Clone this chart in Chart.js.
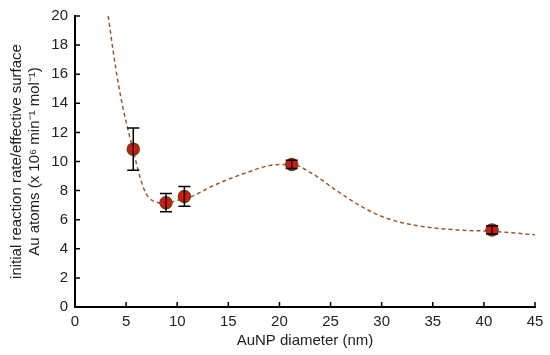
<!DOCTYPE html>
<html>
<head>
<meta charset="utf-8">
<script src="https://cdn.jsdelivr.net/npm/chart.js@4"></script>
<style>
  html, body { margin: 0; padding: 0; background: #fff; }
  #wrap { width: 550px; height: 355px; }
</style>
</head>
<body>
<div id="wrap"><canvas id="rateChart"></canvas></div>
<script>
// measured points (AuNP diameter nm, rate per surface atom) with error
const diam = [5.7, 8.9, 10.7, 21.2, 40.8];
const rate = [10.85, 7.17, 7.6, 9.8, 5.3];
const rateErr = [1.45, 0.63, 0.68, 0.28, 0.28];

// fitted curve
const fitX = [3.25, 3.75, 4.25, 4.75, 5.25, 5.75, 6.25, 6.75, 7.25, 8.0, 8.8, 10.0, 11.25, 13.5, 16.8, 19.4, 21.2, 23.3, 25.6, 27.9, 30.2, 33.4, 37.3, 40.8, 45];
const fitY = [20, 17.5, 15.3, 13.5, 12.0, 10.6, 9.2, 8.1, 7.5, 7.2, 7.12, 7.33, 7.55, 8.33, 9.24, 9.76, 9.8, 9.12, 7.99, 6.96, 6.17, 5.6, 5.3, 5.2, 4.97];

const xTicks = [0, 5, 10, 15, 20, 25, 30, 35, 40, 45];
const yTicks = [0, 2, 4, 6, 8, 10, 12, 14, 16, 18, 20];

const textColor = '#222';
const fontFam = "'Liberation Sans', Arial, sans-serif";

const errorBars = {
  id: 'errorBars',
  afterDatasetsDraw(chart) {
    const ctx = chart.ctx;
    const xs = chart.scales.x, ys = chart.scales.y;
    ctx.save();
    ctx.strokeStyle = '#000';
    ctx.lineWidth = 1.5;
    for (let i = 0; i < diam.length; i++) {
      const px = xs.getPixelForValue(diam[i]);
      const top = ys.getPixelForValue(rate[i] + rateErr[i]);
      const bot = ys.getPixelForValue(rate[i] - rateErr[i]);
      ctx.beginPath();
      ctx.moveTo(px, top); ctx.lineTo(px, bot);
      ctx.moveTo(px - 6, top); ctx.lineTo(px + 6, top);
      ctx.moveTo(px - 6, bot); ctx.lineTo(px + 6, bot);
      ctx.stroke();
    }
    ctx.restore();
  }
};

const innerTicks = {
  id: 'innerTicks',
  afterDraw(chart) {
    const ctx = chart.ctx;
    const xs = chart.scales.x, ys = chart.scales.y;
    const area = chart.chartArea;
    ctx.save();
    ctx.strokeStyle = '#000';
    ctx.lineWidth = 1.5;
    ctx.beginPath();
    xTicks.forEach(v => {
      const px = xs.getPixelForValue(v);
      ctx.moveTo(px, area.bottom); ctx.lineTo(px, area.bottom - 5);
    });
    yTicks.forEach(v => {
      const py = ys.getPixelForValue(v);
      ctx.moveTo(area.left, py); ctx.lineTo(area.left + 5, py);
    });
    ctx.stroke();
    ctx.restore();
  }
};

const ctx = document.getElementById('rateChart').getContext('2d');
const rateChart = new Chart(ctx, {
  type: 'scatter',
  data: {
    datasets: [{
      label: 'measured',
      data: diam.map((d, i) => ({ x: d, y: rate[i] })),
      pointRadius: 6,
      pointHoverRadius: 6,
      backgroundColor: '#dc1414',
      borderColor: '#6b4516',
      borderWidth: 1.5,
      showLine: false
    }, {
      label: 'fit',
      data: fitX.map((d, i) => ({ x: d, y: fitY[i] })),
      showLine: true,
      pointRadius: 0,
      borderColor: '#9b5a2a',
      borderWidth: 1.5,
      borderDash: [4, 3],
      cubicInterpolationMode: 'monotone',
      fill: false
    }]
  },
  options: {
    responsive: true,
    maintainAspectRatio: false,
    animation: false,
    layout: { padding: { top: 14, right: 15, left: 0, bottom: 0 } },
    plugins: {
      legend: { display: false },
      tooltip: { enabled: false }
    },
    scales: {
      x: {
        type: 'linear',
        min: 0,
        max: 45,
        afterFit: (s) => { s.height = 48; },
        afterBuildTicks: (s) => { s.ticks = xTicks.map(v => ({ value: v })); },
        grid: { display: false, drawTicks: false },
        border: { display: true, color: '#000', width: 2 },
        ticks: {
          padding: 6,
          color: textColor,
          font: { family: fontFam, size: 15 },
          maxRotation: 0
        },
        title: {
          display: true,
          text: 'AuNP diameter (nm)',
          color: textColor,
          font: { family: fontFam, size: 15, lineHeight: 1.2 },
          padding: { top: 0, bottom: 5 }
        }
      },
      y: {
        type: 'linear',
        min: 0,
        max: 20,
        afterFit: (s) => { s.width = 75; },
        afterBuildTicks: (s) => { s.ticks = yTicks.map(v => ({ value: v })); },
        grid: { display: false, drawTicks: false },
        border: { display: true, color: '#000', width: 2 },
        ticks: {
          padding: 7,
          color: textColor,
          font: { family: fontFam, size: 15 }
        },
        title: {
          display: true,
          text: ['initial reaction rate/effective surface', 'Au atoms (x 10\u2076 min\u207B\u00B9 mol\u207B\u00B9)'],
          color: textColor,
          font: { family: fontFam, size: 15, lineHeight: 1.2 },
          padding: { top: 8, bottom: 0 }
        }
      }
    }
  },
  plugins: [errorBars, innerTicks]
});
</script>
</body>
</html>
